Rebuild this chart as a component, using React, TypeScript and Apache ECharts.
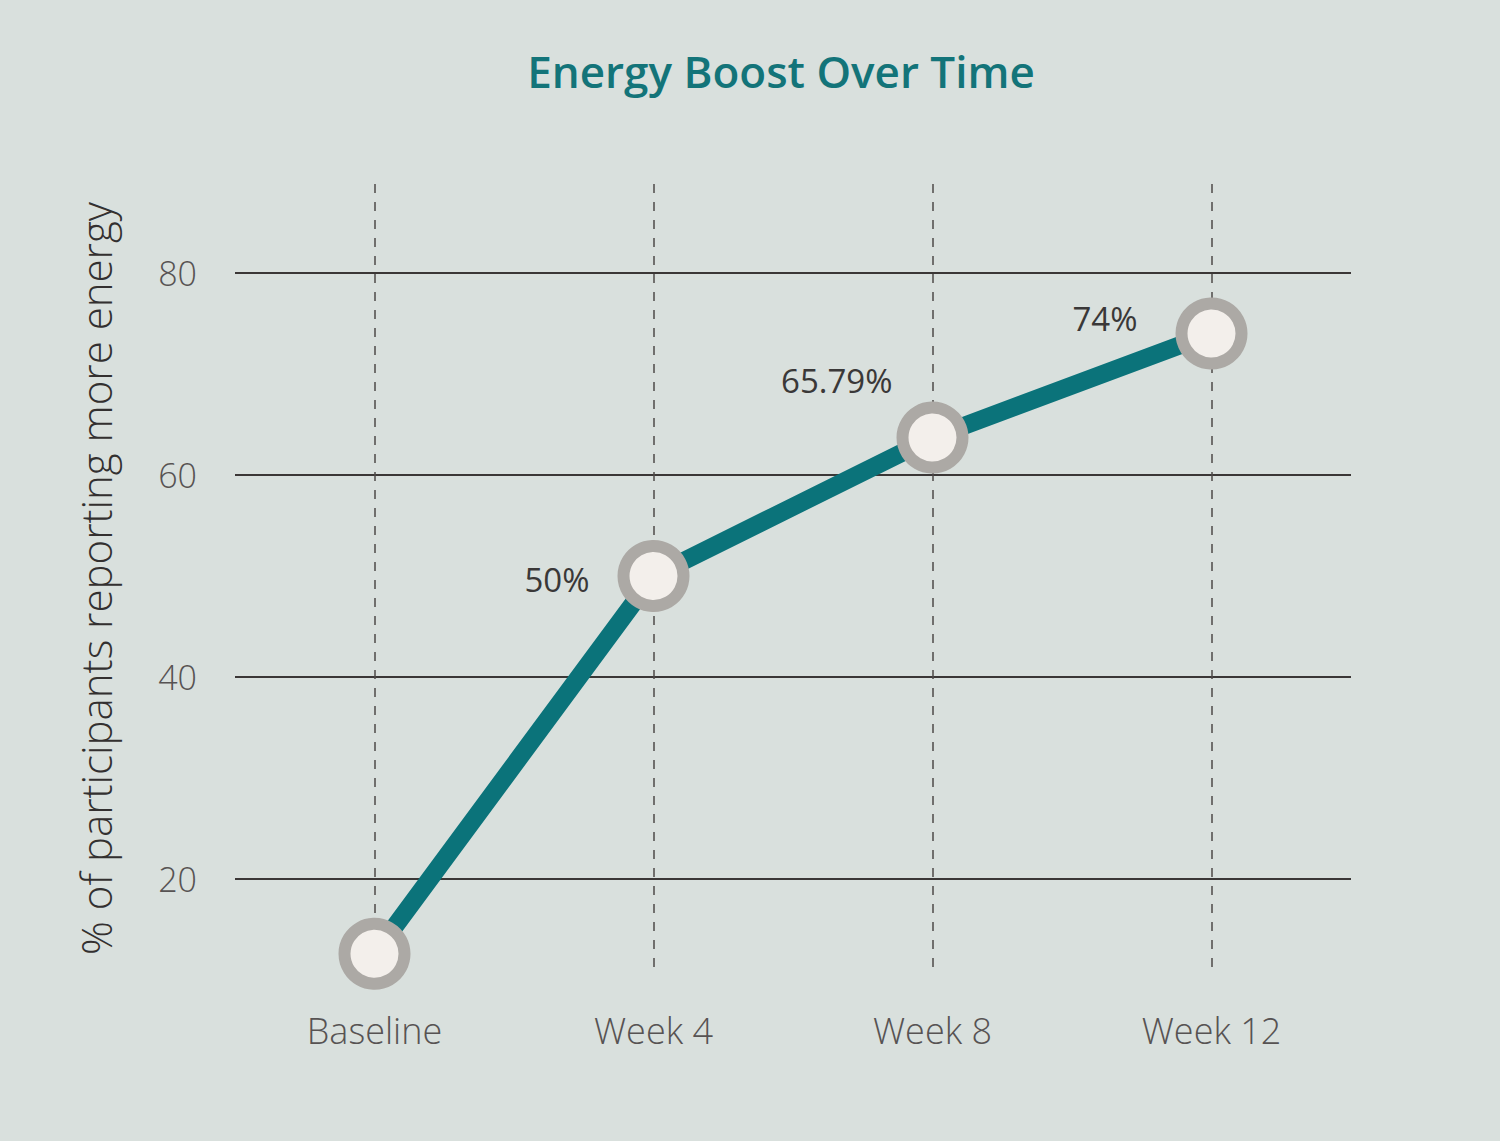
import React, { useEffect, useRef } from "react";
import * as echarts from "echarts";

const categories = ["Baseline", "Week 4", "Week 8", "Week 12"];
const values = [12.6, 50, 63.7, 74];
const pointLabels = ["", "50%", "65.79%", "74%"];
const yTicks = [20, 40, 60, 80];
const gridSlots = ["s0", "s1", "s2", "s3", "s4", "s5", "s6", "s7", "s8"];

const labelPlacement = [
  { distance: 0, offset: [0, 0] },
  { distance: 28, offset: [0, 4] },
  { distance: 4, offset: [0, -57] },
  { distance: 38, offset: [0, -15] },
];

const FONT = "'Open Sans', Lato, sans-serif";

export default function App() {
  const ref = useRef<HTMLDivElement>(null);

  useEffect(() => {
    if (!ref.current) return;
    const chart = echarts.init(ref.current, undefined, { renderer: "svg" });

    const seriesData = values.map((v, i) => ({
      value: v,
      label: {
        show: pointLabels[i] !== "",
        position: "left",
        distance: labelPlacement[i].distance,
        offset: labelPlacement[i].offset,
      },
    }));

    chart.setOption({
      animation: false,
      backgroundColor: "#d9e0dd",
      title: {
        text: "Energy Boost Over Time",
        left: 776,
        top: 44,
        textAlign: "center",
        textStyle: {
          fontFamily: FONT,
          fontSize: 44,
          fontWeight: 600,
          color: "#137479",
        },
      },
      grid: { left: 235, right: 149, top: 184, bottom: 168 },
      xAxis: [
        {
          type: "category",
          data: categories,
          boundaryGap: true,
          axisLine: { show: false },
          axisTick: { show: false },
          splitLine: { show: false },
          axisLabel: {
            fontFamily: FONT,
            fontSize: 36,
            fontWeight: 300,
            color: "#575353",
            margin: 39,
          },
        },
        {
          type: "category",
          data: gridSlots,
          boundaryGap: false,
          position: "top",
          axisLine: { show: false },
          axisTick: { show: false },
          axisLabel: { show: false },
          splitLine: {
            show: true,
            interval: (i: number) => i % 2 === 1,
            lineStyle: { color: "#4d4a48", width: 1.5, type: [9, 9] },
          },
        },
      ],
      yAxis: {
        type: "value",
        min: 10.7,
        max: 88.8,
        name: "% of participants reporting more energy",
        nameLocation: "middle",
        nameGap: 119,
        nameTextStyle: {
          fontFamily: FONT,
          fontSize: 42,
          fontWeight: 300,
          color: "#333030",
        },
        axisLine: { show: false },
        axisTick: { show: false, customValues: yTicks },
        axisLabel: {
          customValues: yTicks,
          fontFamily: FONT,
          fontSize: 34,
          fontWeight: 300,
          color: "#575353",
          margin: 38,
        },
        splitLine: {
          show: true,
          lineStyle: { color: "#3b3736", width: 2 },
        },
      },
      series: [
        {
          type: "line",
          data: seriesData,
          xAxisIndex: 0,
          clip: false,
          symbol: "circle",
          symbolSize: 60,
          lineStyle: { color: "#0b737a", width: 18 },
          itemStyle: {
            color: "#f3efeb",
            borderColor: "#aca9a5",
            borderWidth: 12,
          },
          label: {
            formatter: (p: any) => pointLabels[p.dataIndex],
            fontFamily: FONT,
            fontSize: 33,
            fontWeight: 400,
            color: "#3a3838",
          },
          emphasis: { disabled: true },
        },
      ],
    });

    return () => chart.dispose();
  }, []);

  return (
    <div
      ref={ref}
      style={{
        position: "fixed",
        left: 0,
        top: 0,
        width: 1500,
        height: 1141,
        background: "#d9e0dd",
      }}
    />
  );
}
